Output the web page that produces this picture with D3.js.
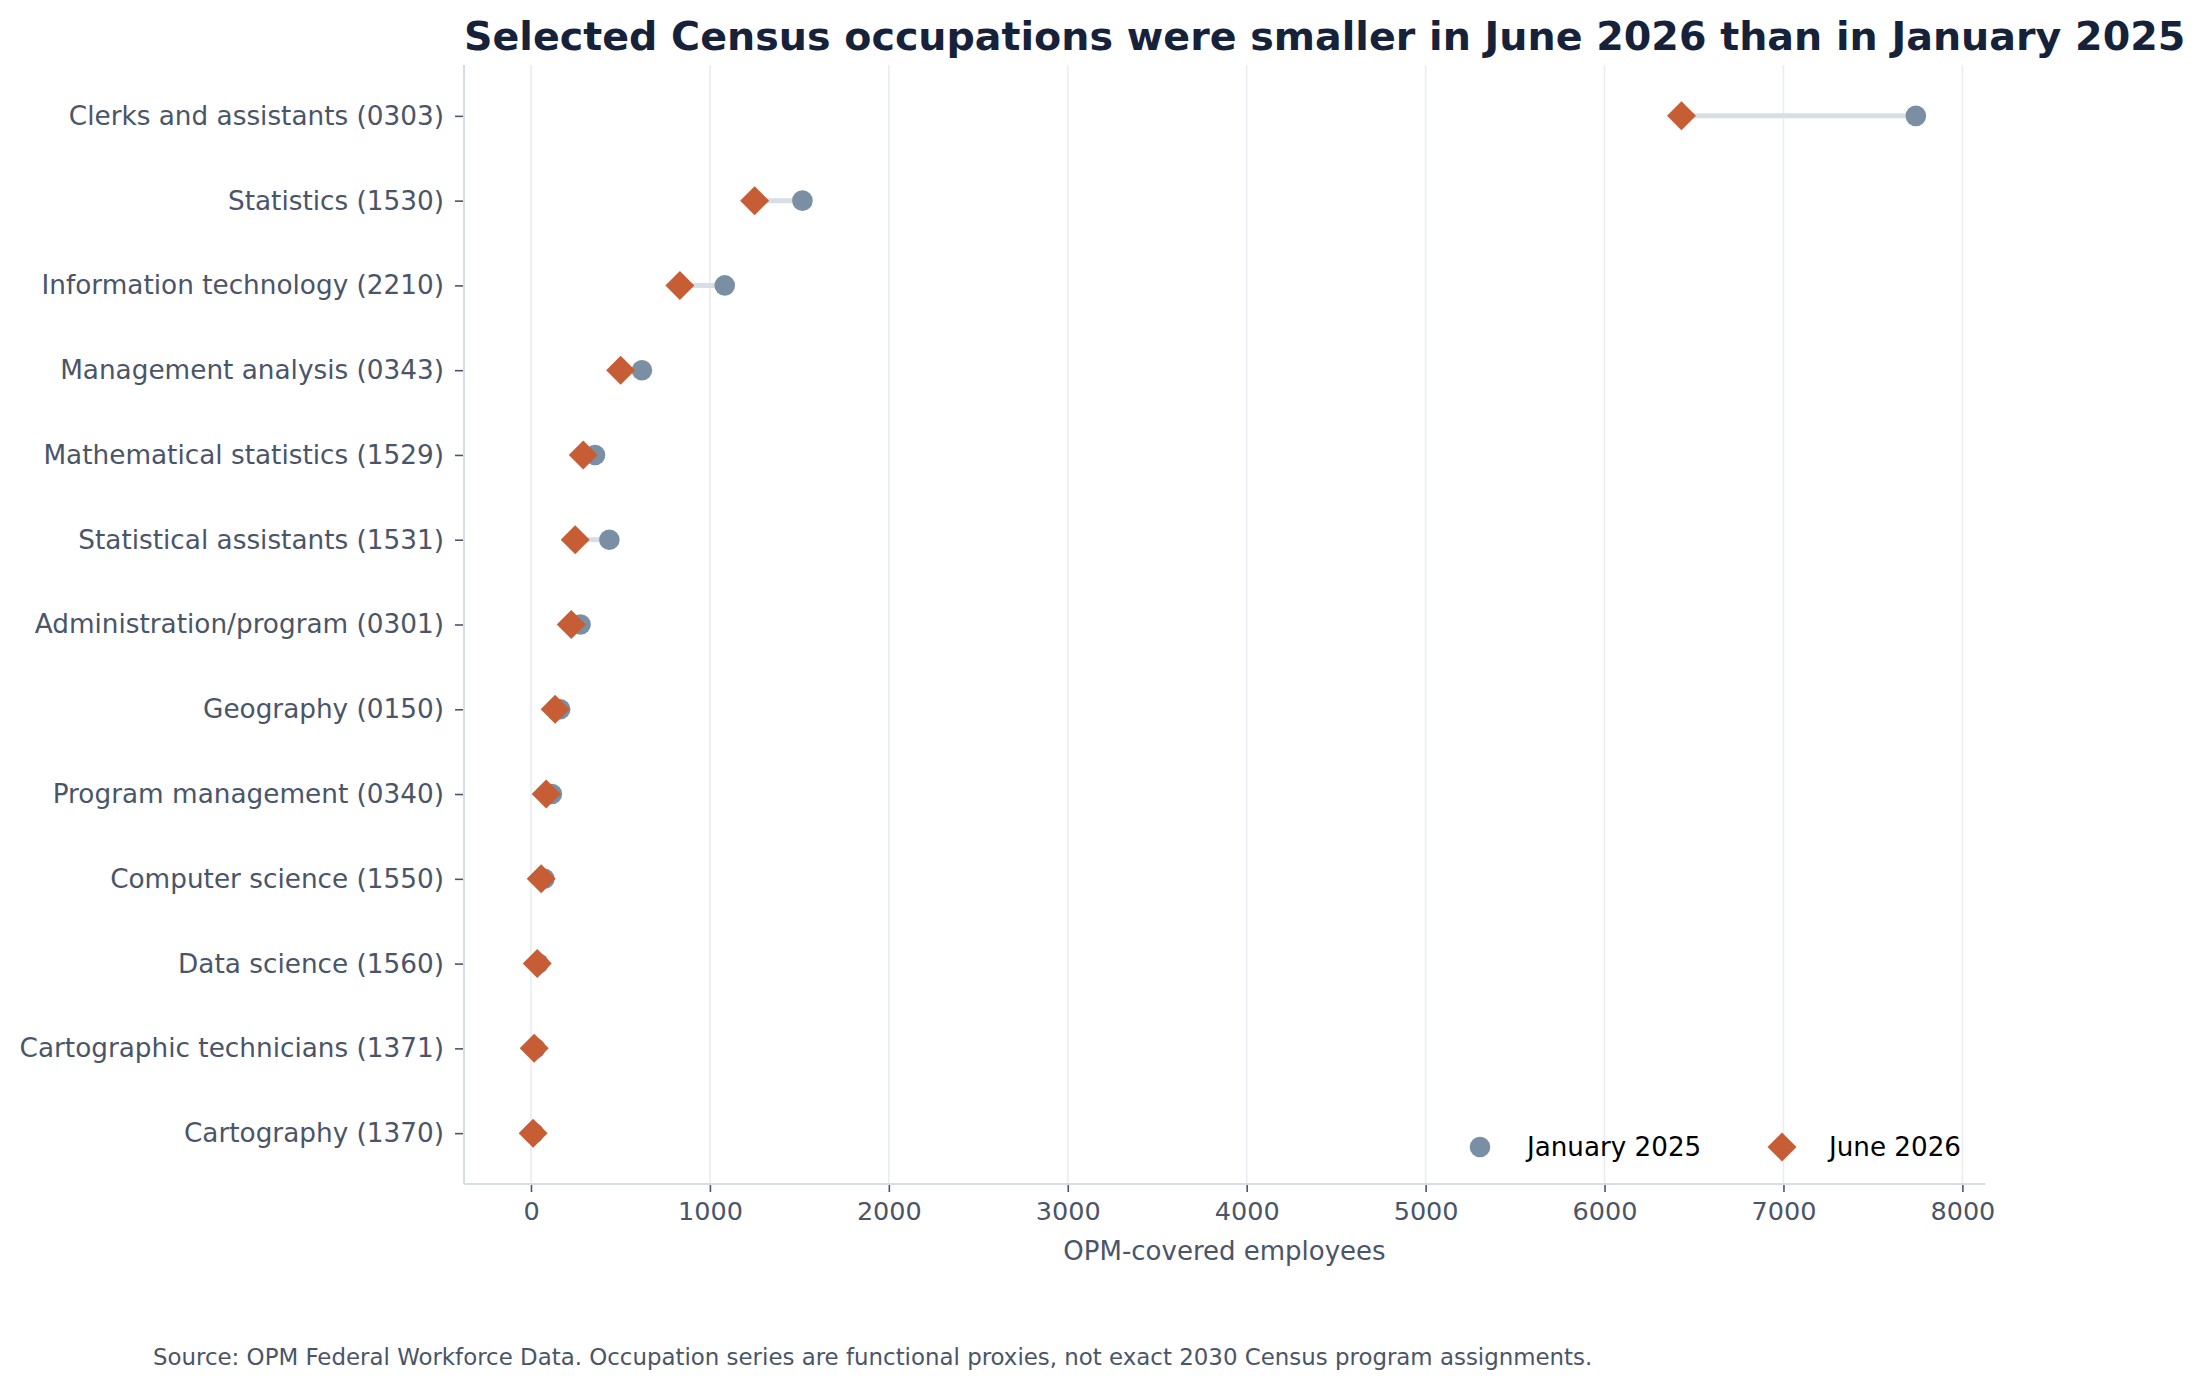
<!DOCTYPE html>
<html>
<head>
<meta charset="utf-8">
<script src="https://cdn.jsdelivr.net/npm/d3@7"></script>
<style>
  body { margin: 0; background: #fff; }
  svg { font-family: "DejaVu Sans", sans-serif; }
</style>
</head>
<body>
<div class="dumbbell-chart"></div>
<script>
// occupations, top to bottom
const occupations = [
  "Clerks and assistants (0303)",
  "Statistics (1530)",
  "Information technology (2210)",
  "Management analysis (0343)",
  "Mathematical statistics (1529)",
  "Statistical assistants (1531)",
  "Administration/program (0301)",
  "Geography (0150)",
  "Program management (0340)",
  "Computer science (1550)",
  "Data science (1560)",
  "Cartographic technicians (1371)",
  "Cartography (1370)"
];
const jan2025 = [7740, 1517, 1083, 620, 358, 438, 277, 163, 117, 75, 42, 24, 15];
const jun2026 = [6430, 1250, 832, 501, 292, 247, 225, 135, 85, 57, 35, 18, 12];
const xTicks = [0, 1000, 2000, 3000, 4000, 5000, 6000, 7000, 8000];
const seriesNames = ["January 2025", "June 2026"];

const W = 2206, H = 1388;
const margin = {top: 65, right: 221, bottom: 204, left: 464};
const width = W - margin.left - margin.right;
const height = H - margin.top - margin.bottom;

const colJan = "#7a8fa3", colJun = "#c65d35", textCol = "#4a5568";

const svgRoot = d3.select(".dumbbell-chart")
  .append("svg")
  .attr("width", W)
  .attr("height", H);

const svg = svgRoot.append("g")
  .attr("transform", "translate(" + margin.left + "," + margin.top + ")");

const rows = occupations.map((name, i) => ({name, jan: jan2025[i], jun: jun2026[i]}));

// 5% padding on both sides like the original
const lo = d3.min(rows, d => Math.min(d.jan, d.jun));
const hi = d3.max(rows, d => Math.max(d.jan, d.jun));
const pad = (hi - lo) * 0.05;

let xScale = d3.scaleLinear()
  .domain([lo - pad, hi + pad])
  .range([0, width]);

let yScale = d3.scalePoint()
  .domain(occupations)
  .range([0, height])
  .padding(0.6);

// grid
svg.append("g")
  .selectAll("line")
  .data(xTicks)
  .join("line")
  .attr("x1", d => xScale(d)).attr("x2", d => xScale(d))
  .attr("y1", 0).attr("y2", height)
  .attr("stroke", "#e9ecf0")
  .attr("stroke-width", 1.6);

// axes
let xAxis = d3.axisBottom(xScale).tickValues(xTicks).tickFormat(d3.format("d"))
  .tickSize(8).tickPadding(10);
let yAxis = d3.axisLeft(yScale).tickSize(8).tickPadding(12);

const gx = svg.append("g")
  .attr("transform", "translate(0," + height + ")")
  .call(xAxis);
gx.select(".domain").remove();
gx.selectAll(".tick line").attr("stroke", textCol).attr("stroke-width", 1.6);
gx.selectAll(".tick text").attr("fill", textCol).attr("font-size", 25.5)
  .attr("font-family", "DejaVu Sans");

const gy = svg.append("g").call(yAxis);
gy.select(".domain").remove();
gy.selectAll(".tick line").attr("stroke", textCol).attr("stroke-width", 1.6)
  .attr("transform", "translate(-1,0)");
gy.selectAll(".tick text").attr("fill", textCol).attr("font-size", 26.3)
  .attr("font-family", "DejaVu Sans");

// spines
svg.append("line").attr("x1", 0).attr("x2", 0).attr("y1", 0).attr("y2", height)
  .attr("stroke", "#d5dde7").attr("stroke-width", 2);
svg.append("line").attr("x1", 0).attr("x2", width).attr("y1", height).attr("y2", height)
  .attr("stroke", "#d5dde7").attr("stroke-width", 2);

// connectors
svg.append("g")
  .selectAll("line")
  .data(rows)
  .join("line")
  .attr("x1", d => xScale(d.jun)).attr("x2", d => xScale(d.jan))
  .attr("y1", d => yScale(d.name)).attr("y2", d => yScale(d.name))
  .attr("stroke", "#d6dee6")
  .attr("stroke-width", 5);

const diamond = d3.symbol().type(d3.symbolSquare).size(420);

svg.append("g")
  .selectAll("circle")
  .data(rows)
  .join("circle")
  .attr("cx", d => xScale(d.jan))
  .attr("cy", d => yScale(d.name))
  .attr("r", 10.3)
  .attr("fill", colJan);

svg.append("g")
  .selectAll("path")
  .data(rows)
  .join("path")
  .attr("d", diamond)
  .attr("transform", d => "translate(" + xScale(d.jun) + "," + yScale(d.name) + ") rotate(45)")
  .attr("fill", colJun);

// legend
const legend = svg.append("g").attr("transform", "translate(0," + (height - 37) + ")");
const legX = [1016, 1318];
legend.append("circle").attr("cx", legX[0]).attr("cy", 0).attr("r", 10.3).attr("fill", colJan);
legend.append("path").attr("d", diamond)
  .attr("transform", "translate(" + legX[1] + ",0) rotate(45)").attr("fill", colJun);
legend.selectAll("text")
  .data(seriesNames)
  .join("text")
  .attr("x", (d, i) => legX[i] + 47)
  .attr("y", 0)
  .attr("dy", "0.35em")
  .attr("font-size", 26.2)
  .attr("fill", "#000")
  .text(d => d);

// title and labels
svgRoot.append("text")
  .attr("x", margin.left)
  .attr("y", 50)
  .attr("font-size", 39.6)
  .attr("font-weight", "bold")
  .attr("fill", "#16213a")
  .text("Selected Census occupations were smaller in June 2026 than in January 2025");

svgRoot.append("text")
  .attr("x", margin.left + width / 2)
  .attr("y", 1260)
  .attr("text-anchor", "middle")
  .attr("font-size", 26)
  .attr("fill", textCol)
  .text("OPM-covered employees");

svgRoot.append("text")
  .attr("x", 153)
  .attr("y", 1365)
  .attr("font-size", 22.9)
  .attr("fill", textCol)
  .text("Source: OPM Federal Workforce Data. Occupation series are functional proxies, not exact 2030 Census program assignments.");
</script>
</body>
</html>
